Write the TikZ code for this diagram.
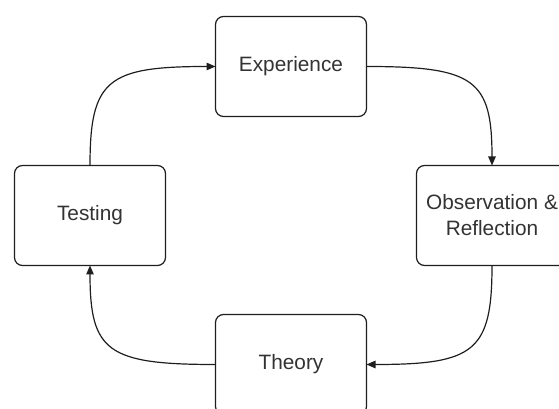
\documentclass[tikz,border=0pt]{standalone}
\usepackage{fontspec}
\setmainfont{Liberation Sans}
\usepackage{xcolor}
\usepackage{tikz}
\usetikzlibrary{arrows.meta,positioning}
\definecolor{ink}{HTML}{333333}
\definecolor{edge}{HTML}{1E1E1E}
\tikzset{
  box/.style={rounded corners=8pt, draw=edge, line width=1.2pt, align=center, inner sep=2pt, outer sep=0pt,
    minimum width=151pt, minimum height=100pt, fill=white, text=ink, font=\fontsize{20.8pt}{26pt}\selectfont},
  link/.style={-{Triangle[length=9pt,width=7.5pt]}, draw=edge, line width=1.2pt}
}
\begin{document}
\begin{tikzpicture}
  \useasboundingbox (0,0) rectangle (559pt,409pt);
  \node[box] (tst) at (90pt,193.5pt) {Testing};
  \node[box, above right=49pt and 50pt of tst] (exp) {Experience};
  \node[box, below right=49pt and 50pt of exp] (obs) {Observation \&\\Reflection};
  \node[box, below left=49pt and 50pt of obs] (thy) {Theory};

  \draw[link] (tst.north) .. controls +(0,86pt) and +(-108pt,0) .. (exp.west);
  \draw[link] (exp.east) .. controls +(108pt,0) and +(0,86pt) .. (obs.north);
  \draw[link] (obs.south) .. controls +(0,-86pt) and +(108pt,0) .. (thy.east);
  \draw[link] (thy.west) .. controls +(-108pt,0) and +(0,-86pt) .. (tst.south);
\end{tikzpicture}
\end{document}
